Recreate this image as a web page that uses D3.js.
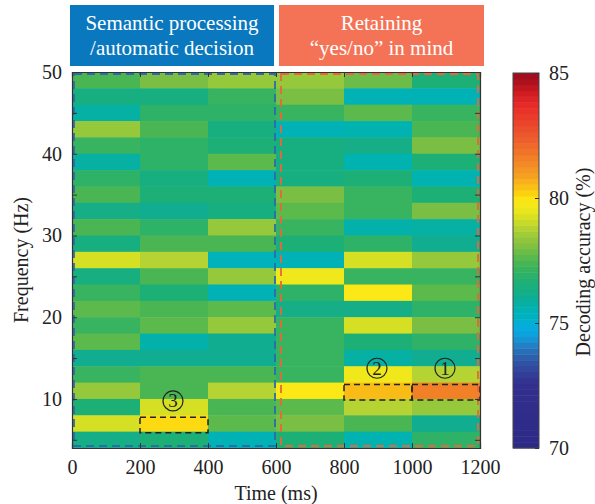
<!DOCTYPE html>
<html>
<head>
<meta charset="utf-8">
<script src="https://cdn.jsdelivr.net/npm/d3@7"></script>
<style>
body{margin:0;background:#fff;}
svg{display:block;font-family:"Liberation Serif","DejaVu Serif",serif;}
.axis path,.axis line{stroke:#333;}
.axis text{fill:#222;font-size:20px;font-family:"Liberation Serif",serif;}
</style>
</head>
<body>
<svg width="595" height="504"></svg>
<script>
// time bins (ms) and frequency bins (Hz, lower edge, top row first)
var timeEdges = [0,200,400,600,800,1000,1200];
var freqLow = [48,46,44,42,40,38,36,34,32,30,28,26,24,22,20,18,16,14,12,10,8,6,4];
// decoding accuracy (%) per frequency row, one value per time bin
var accuracy = [
  [77.4,78.0,78.4,78.4,77.85,76.6],
  [76.4,76.4,77.15,78.0,75.5,75.5],
  [75.8,77.0,77.0,77.15,77.7,77.15],
  [78.4,77.4,76.4,75.5,75.6,77.4],
  [77.15,77.0,76.6,76.4,76.3,78.0],
  [75.8,77.0,77.7,76.4,75.6,76.6],
  [77.0,76.4,75.5,76.4,76.6,75.6],
  [77.4,76.6,76.6,78.0,77.15,76.6],
  [76.3,76.1,76.4,77.7,77.15,78.0],
  [77.4,77.0,78.4,77.15,75.7,75.8],
  [76.4,77.4,77.4,76.6,77.0,76.1],
  [79.2,78.8,75.4,75.5,79.2,78.4],
  [76.4,77.4,78.4,79.6,77.15,77.15],
  [77.15,76.6,75.5,77.0,79.9,77.7],
  [77.7,77.4,77.7,76.3,76.3,77.0],
  [77.15,77.7,78.4,77.15,79.2,78.0],
  [77.7,75.7,76.1,77.15,76.6,77.0],
  [76.1,76.1,76.1,77.15,75.8,76.1],
  [77.15,77.4,77.4,77.15,79.6,78.8],
  [78.4,77.4,78.8,79.9,80.5,81.6],
  [76.6,79.2,77.4,77.7,78.8,78.4],
  [79.2,80.1,77.7,78.0,77.4,76.1],
  [76.3,76.6,75.5,76.6,75.6,77.0]
];
var xTicks = [0,200,400,600,800,1000,1200];
var yTicks = [5,10,15,20,25,30,35,40,45,50];
var cbTicks = [70,75,80,85];
var colorStops = [70,72.6,73.2,73.7,74.1,74.5,74.9,75.2,75.6,76.1,76.6,77.0,77.3,77.7,78.0,78.4,78.8,79.2,79.6,79.9,80.2,80.5,80.9,81.4,81.9,82.5,83.1,83.7,84.2,84.6,85];
var colorHex = ['#2c2a86','#332f8e','#32489e','#2d62ae','#2380c6','#0ea0dc','#05aee0','#00b2c4','#00b2b0','#10ad90','#1db076','#2db268','#42b456','#5cba4c','#7abf44','#95c83a','#b5d332','#d5df24','#f0e81a','#fce816','#fcd20e','#f9bc16','#f5a020','#f28a26','#f07028','#ec582c','#ea422c','#e82a28','#d01c22','#b0121e','#9c0c1c'];
var phases = [
  {t0:0,t1:600,lines:['Semantic processing','/automatic decision'],fill:'#0a78be',dash:'#2f6ba8'},
  {t0:600,t1:1200,lines:['Retaining','\u201cyes/no\u201d in mind'],fill:'#f47356',dash:'#e8663c'}
];
var highlights = [
  {n:'1',t0:1000,t1:1200,f0:10,f1:12},
  {n:'2',t0:800,t1:1000,f0:10,f1:12},
  {n:'3',t0:200,t1:400,f0:6,f1:8}
];

var svg = d3.select('svg');
var x = d3.scaleLinear().domain([0,1200]).range([72,480]);
var y = d3.scaleLinear().domain([4,50]).range([448,72]);
var color = d3.scaleLinear().domain(colorStops).range(colorHex).clamp(true);

// phase title boxes
phases.forEach(function(p,i){
    var x0 = x(p.t0) - (i?-3:2), x1 = x(p.t1) + (i?4:-2);
    svg.append('rect').attr('x',x0).attr('y',5).attr('width',x1-x0).attr('height',61).attr('fill',p.fill);
    p.lines.forEach(function(l,j){
        svg.append('text').text(l)
            .attr('x',(x0+x1)/2).attr('y',30+j*25)
            .attr('text-anchor','middle').attr('fill','#fff').style('font-size','21px');
    });
});

// heatmap cells
var cells = [];
accuracy.forEach(function(row,r){
    row.forEach(function(v,c){
        cells.push({t0:timeEdges[c],t1:timeEdges[c+1],f0:freqLow[r],f1:freqLow[r]+2,v:v});
    });
});
svg.append('g').selectAll('rect').data(cells).enter().append('rect')
    .attr('x',function(d){return x(d.t0);})
    .attr('y',function(d){return y(d.f1);})
    .attr('width',function(d){return x(d.t1)-x(d.t0)+0.5;})
    .attr('height',function(d){return y(d.f0)-y(d.f1)+0.5;})
    .attr('fill',function(d){return color(d.v);});

// phase dashed outlines
phases.forEach(function(p,i){
    var x0 = x(p.t0) + (i?5:2), x1 = x(p.t1) - (i?2:1);
    svg.append('rect').attr('x',x0).attr('y',y(50)+2).attr('width',x1-x0).attr('height',y(4)-y(50)-4)
        .attr('fill','none').attr('stroke',p.dash).attr('stroke-width',1.8).attr('stroke-dasharray','8,5');
});

// highlighted cells
highlights.forEach(function(h){
    svg.append('rect').attr('x',x(h.t0)).attr('y',y(h.f1)+2).attr('width',x(h.t1)-x(h.t0)).attr('height',y(h.f0)-y(h.f1)-1)
        .attr('fill','none').attr('stroke','#222').attr('stroke-width',1.5).attr('stroke-dasharray','6,4');
    var cx = (x(h.t0)+x(h.t1))/2 - 1, cy = y(h.f1+2) + 2;
    svg.append('circle').attr('cx',cx).attr('cy',cy).attr('r',10).attr('fill','none').attr('stroke','#222').attr('stroke-width',1.2);
    svg.append('text').text(h.n).attr('x',cx).attr('y',cy+6.5).attr('text-anchor','middle').attr('fill','#222').style('font-size','19px');
});

// axes (MATLAB style, inward ticks)
svg.append('g').attr('class','axis').attr('transform','translate(0,448)')
    .call(d3.axisBottom(x).tickValues(xTicks).tickSize(-5).tickPadding(12).tickFormat(d3.format('d')))
    .selectAll('text').attr('dy','0.71em');
svg.append('g').attr('class','axis').attr('transform','translate(0,72)')
    .call(d3.axisTop(x).tickValues(xTicks).tickSize(-5).tickFormat(''));
svg.append('g').attr('class','axis').attr('transform','translate(72,0)')
    .call(d3.axisLeft(y).tickValues(yTicks).tickSize(-5).tickPadding(10).tickFormat(function(d){return d%10?'':d;}));
svg.append('g').attr('class','axis').attr('transform','translate(480,0)')
    .call(d3.axisRight(y).tickValues(yTicks).tickSize(-5).tickFormat(''));
svg.selectAll('.axis .domain').attr('stroke-width',1.2);

svg.append('text').text('Time (ms)').attr('x',276).attr('y',500).attr('text-anchor','middle').attr('fill','#222').style('font-size','20px');
svg.append('text').text('Frequency (Hz)').attr('transform','translate(28,260) rotate(-90)').attr('text-anchor','middle').attr('fill','#222').style('font-size','20px');

// colorbar
var cb = d3.scaleLinear().domain([70,85]).range([448,73]);
var levels = d3.range(64).map(function(i){return 70 + i*15/64;});
svg.append('g').selectAll('rect').data(levels).enter().append('rect')
    .attr('x',513).attr('width',26)
    .attr('y',function(d){return cb(d+15/64);})
    .attr('height',function(d){return cb(d)-cb(d+15/64)+0.5;})
    .attr('fill',function(d){return color(d+15/128);});
svg.append('rect').attr('x',513).attr('y',73).attr('width',26).attr('height',375).attr('fill','none').attr('stroke','#444').attr('stroke-width',1);
svg.append('g').attr('class','axis').attr('transform','translate(539,0)')
    .call(d3.axisRight(cb).tickValues(cbTicks).tickSize(-4).tickPadding(10))
    .select('.domain').remove();
svg.append('text').text('Decoding accuracy (%)').attr('transform','translate(590,262) rotate(-90)').attr('text-anchor','middle').attr('fill','#222').style('font-size','20px');
</script>
</body>
</html>
